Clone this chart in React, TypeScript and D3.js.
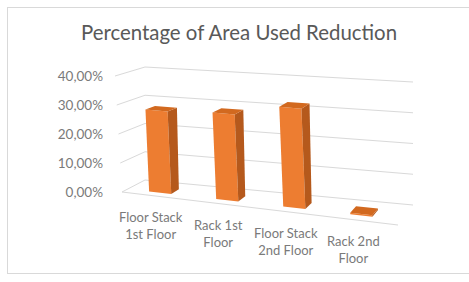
import * as d3 from "d3";
import { useRef, useEffect } from "react";

const categories = [
    ["Floor Stack", "1st Floor"],
    ["Rack 1st", "Floor"],
    ["Floor Stack", "2nd Floor"],
    ["Rack 2nd", "Floor"],
];
const values = [0.282, 0.292, 0.33, 0.005];
const ticks = [0, 0.1, 0.2, 0.3, 0.4];
const title = "Percentage of Area Used Reduction";

const W = 469;
const H = 282;

// corners of the 3d box on screen: [u][t][z] -> [x, y]
const corners = {
    "000": [122, 192], "010": [115, 76],
    "100": [398, 225], "110": [392, 99],
    "001": [145, 180], "011": [145, 67],
    "101": [413, 205], "111": [413, 82],
};

const project = (u, t, z) => {
    let x = 0, y = 0;
    for (const a of [0, 1]) for (const b of [0, 1]) for (const c of [0, 1]) {
        const w = (a ? u : 1 - u) * (b ? t : 1 - t) * (c ? z : 1 - z);
        const p = corners[`${a}${b}${c}`];
        x += w * p[0];
        y += w * p[1];
    }
    return [x, y];
};

const App = () => {
    const ref = useRef(null);

    useEffect(() => {
        const svg = d3.select(ref.current);
        svg.selectAll("*").remove();

        const scaleU = d3.scaleBand()
            .domain(categories.map((d, i) => i))
            .range([-0.004, 0.975])
            .paddingInner(0.67)
            .paddingOuter(0.335);
        const scaleT = d3.scaleLinear().domain([0, 0.4]).range([0, 1]);
        const z0 = 0.25, z1 = 0.6;

        svg.append("rect")
            .attr("x", 7.5).attr("y", 7.5)
            .attr("width", 470).attr("height", 266)
            .attr("fill", "#fff")
            .attr("stroke", "#d9d9d9");

        svg.append("text")
            .attr("x", 239).attr("y", 40)
            .attr("text-anchor", "middle")
            .attr("font-family", "Lato, 'Open Sans', sans-serif")
            .attr("font-size", 20.4)
            .attr("fill", "#595959")
            .text(title);

        const line = d3.line();
        const grid = svg.append("g")
            .attr("fill", "none")
            .attr("stroke", "#d9d9d9")
            .attr("stroke-width", 1);

        ticks.forEach(v => {
            const t = scaleT(v);
            grid.append("path")
                .attr("d", line([project(0, t, 0), project(0, t, 1), project(1, t, 1)]));
        });
        grid.append("path").attr("d", line([project(0, 0, 0), project(1, 0, 0)]));

        svg.append("g")
            .selectAll("text")
            .data(ticks)
            .enter()
            .append("text")
            .attr("x", 103)
            .attr("y", d => project(0, scaleT(d), 0)[1])
            .attr("dy", "0.35em")
            .attr("text-anchor", "end")
            .attr("font-family", "Lato, 'Open Sans', sans-serif")
            .attr("font-size", 13.5)
            .attr("fill", "#7a7a7a")
            .text(d => d3.format(".2f")(d * 100).replace(".", ",") + "%");

        const bars = svg.append("g");
        values.forEach((v, i) => {
            const u0 = scaleU(i), u1 = u0 + scaleU.bandwidth();
            const t = scaleT(v);
            const poly = pts => bars.append("path").attr("d", line(pts) + "Z");
            poly([project(u0, 0, z0), project(u1, 0, z0), project(u1, t, z0), project(u0, t, z0)])
                .attr("fill", "#ed7d31");
            poly([project(u1, 0, z0), project(u1, 0, z1), project(u1, t, z1), project(u1, t, z0)])
                .attr("fill", "#b5591c");
            poly([project(u0, t, z0), project(u1, t, z0), project(u1, t, z1), project(u0, t, z1)])
                .attr("fill", "#d2691f");
        });

        const labels = svg.append("g")
            .attr("font-family", "Lato, 'Open Sans', sans-serif")
            .attr("font-size", 13)
            .attr("fill", "#7a7a7a")
            .attr("text-anchor", "middle");
        categories.forEach((lines, i) => {
            const [x, y] = project(scaleU(i) + scaleU.bandwidth() / 2, 0, 0);
            const txt = labels.append("text")
                .attr("x", x - 4)
                .attr("y", y + 26);
            lines.forEach((s, j) => {
                txt.append("tspan")
                    .attr("x", x - 4)
                    .attr("dy", j === 0 ? 0 : 17)
                    .text(s);
            });
        });
    }, []);

    return (
        <svg ref={ref} width={W} height={H}
            style={{ position: "absolute", left: 0, top: 0, background: "#fff" }}></svg>
    );
};

export default App;
